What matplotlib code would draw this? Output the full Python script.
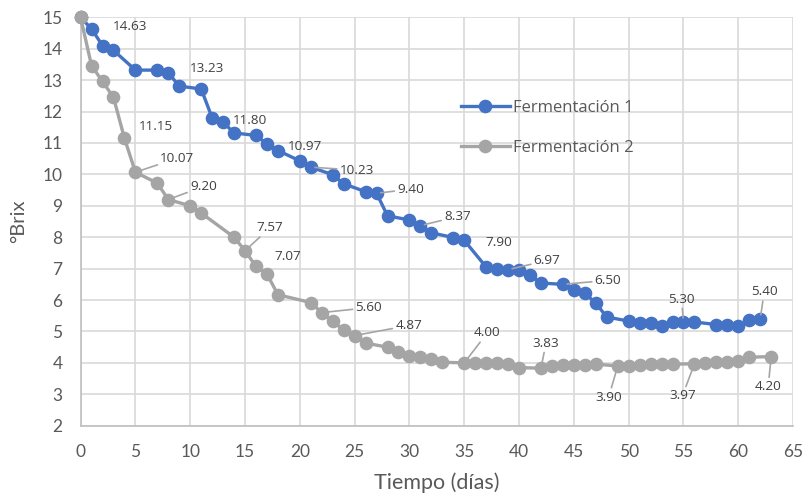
import matplotlib.pyplot as plt

plt.rcParams['font.family'] = ['Lato', 'DejaVu Sans']

# Fermentación 1
dias_1 = [0, 1, 2, 3, 5, 7, 8, 9, 11, 12, 13, 14, 16, 17, 18, 20, 21, 23, 24, 26,
          27, 28, 30, 31, 32, 34, 35, 37, 38, 39, 40, 41, 42, 44, 45, 46, 47, 48,
          50, 51, 52, 53, 54, 55, 56, 58, 59, 60, 61, 62]
brix_1 = [15.00, 14.63, 14.10, 13.95, 13.32, 13.32, 13.23, 12.81, 12.72, 11.80,
          11.66, 11.32, 11.24, 10.97, 10.76, 10.43, 10.23, 9.99, 9.70, 9.45,
          9.40, 8.68, 8.55, 8.37, 8.14, 7.99, 7.90, 7.05, 7.00, 6.97,
          6.97, 6.79, 6.54, 6.50, 6.31, 6.22, 5.90, 5.46,
          5.33, 5.27, 5.27, 5.16, 5.30, 5.30, 5.30, 5.22, 5.22, 5.16, 5.35, 5.40]

# Fermentación 2
dias_2 = [0, 1, 2, 3, 4, 5, 7, 8, 10, 11, 14, 15, 16, 17, 18, 21, 22, 23, 24, 25,
          26, 28, 29, 30, 31, 32, 33, 35, 36, 37, 38, 39, 40, 42, 43, 44, 45, 46,
          47, 49, 50, 51, 52, 53, 54, 56, 57, 58, 59, 60, 61, 63]
brix_2 = [15.00, 13.46, 12.96, 12.45, 11.15, 10.07, 9.72, 9.20, 9.00, 8.77,
          8.00, 7.57, 7.07, 6.83, 6.17, 5.92, 5.60, 5.32, 5.05, 4.87,
          4.63, 4.50, 4.36, 4.22, 4.20, 4.12, 4.02, 4.00, 3.99, 3.99, 3.99, 3.96,
          3.85, 3.83, 3.90, 3.93, 3.93, 3.93, 3.96, 3.90, 3.90, 3.93, 3.96, 3.96,
          3.96, 3.97, 3.99, 4.02, 4.04, 4.07, 4.18, 4.20]

# etiquetas: (día, desplazamiento del texto en píxeles, con línea guía)
etiquetas_1 = [(1, (38, 2), False), (8, (39, 4), False), (12, (38, -3), False),
               (17, (38, -3), False), (21, (46, -3), True), (27, (34, 4), True),
               (31, (37, 9), True), (35, (35, -2), False), (39, (39, 9), True),
               (44, (45, 4), True), (55, (-2, 23), True), (62, (4, 27), True)]
etiquetas_2 = [(4, (31, 12), False), (5, (42, 14), True), (8, (35, 13), True),
               (15, (25, 23), True), (16, (32, 10), False), (22, (47, 5), True),
               (25, (54, 10), True), (35, (23, 30), True), (42, (5, 25), True),
               (49, (-9, -31), True), (56, (-12, -32), True), (63, (-3, -30), True)]

azul = '#4472C4'
gris = '#A5A5A5'
texto = '#404040'
fuente_etiquetas = ['Open Sans', 'DejaVu Sans']

fig = plt.figure(figsize=(8.06, 4.95), dpi=100)
ax = fig.add_axes([0.100, 0.140, 0.884, 0.825])

ax.plot(dias_1, brix_1, color=azul, lw=2.4, marker='o', ms=8.8,
        label='Fermentación 1', clip_on=False, zorder=3)
ax.plot(dias_2, brix_2, color=gris, lw=2.4, marker='o', ms=8.8,
        label='Fermentación 2', clip_on=False, zorder=3)

for dias, brix, etiquetas in [(dias_1, brix_1, etiquetas_1), (dias_2, brix_2, etiquetas_2)]:
    for dia, off, guia in etiquetas:
        v = brix[dias.index(dia)]
        props = dict(arrowstyle='-', color=gris, lw=1.2, shrinkA=0, shrinkB=3) if guia else None
        ax.annotate(f'{v:.2f}', (dia, v), xytext=off, textcoords='offset pixels',
                    ha='center', va='center', fontsize=9.7, color=texto,
                    family=fuente_etiquetas, arrowprops=props, zorder=4)

ax.set_xlim(0, 65)
ax.set_ylim(2, 15)
ax.set_xticks(range(0, 66, 5))
ax.set_yticks(range(2, 16))
ax.grid(True, color='#D9D9D9', lw=1.2)
ax.set_axisbelow(True)
for s in ['top', 'right']:
    ax.spines[s].set_visible(False)
for s in ['left', 'bottom']:
    ax.spines[s].set_color('#BFBFBF')
    ax.spines[s].set_linewidth(1.2)
ax.tick_params(length=0, pad=13, labelsize=12.5, labelcolor='#595959')

ax.set_xlabel('Tiempo (días)', fontsize=15.5, color='#595959', labelpad=9)
ax.set_ylabel('°Brix', fontsize=14.5, color='#595959', labelpad=11)

ax.legend(loc='upper left', bbox_to_anchor=(0.525, 0.815), frameon=False,
          prop={'family': fuente_etiquetas, 'size': 12}, labelcolor='#595959',
          handlelength=2.9, handletextpad=0.2, labelspacing=1.45, borderaxespad=0)

fig.savefig('out.png', dpi=100)
